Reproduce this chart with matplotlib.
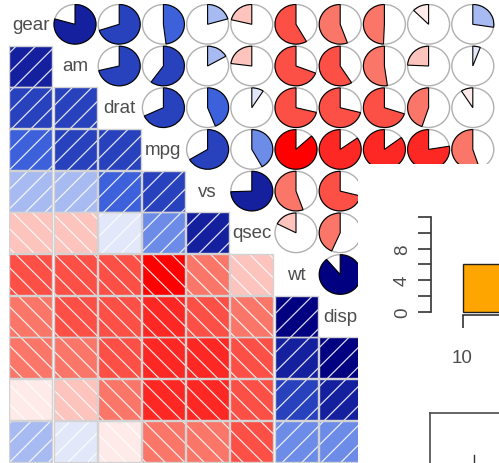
import numpy as np
import matplotlib
matplotlib.use("Agg")
import matplotlib.pyplot as plt
from matplotlib.patches import Rectangle, Wedge, Circle

# variables in corrgram order
names = ["gear", "am", "drat", "mpg", "vs", "qsec", "wt", "disp", "cyl", "hp", "carb"]

# upper triangle of the correlation matrix, one list per row (vs the following variables)
gear_r = [0.794, 0.700, 0.480, 0.206, -0.213, -0.583, -0.556, -0.493, -0.126, 0.274]
am_r = [0.713, 0.600, 0.168, -0.230, -0.692, -0.591, -0.523, -0.243, 0.058]
drat_r = [0.681, 0.440, 0.091, -0.712, -0.710, -0.700, -0.449, -0.091]
mpg_r = [0.664, 0.419, -0.868, -0.848, -0.852, -0.776, -0.551]
vs_r = [0.745, -0.555, -0.710, -0.811, -0.723, -0.570]
qsec_r = [-0.175, -0.434, -0.591, -0.708, -0.656]
wt_r = [0.888, 0.782, 0.659, 0.428]
disp_r = [0.902, 0.791, 0.395]
cyl_r = [0.832, 0.527]
hp_r = [0.750]

# histogram panel partly visible on top (mpg)
hist_edges = [10, 15, 20, 25, 30, 35]
hist_counts = [6, 12, 8, 2, 4]
hist_yticks = [0, 2, 4, 6, 8, 10, 12]
hist_ylabels = ["0", "", "4", "", "8", "", ""]
whisker_top = 0.6

n = len(names)
R = np.eye(n)
for i, row in enumerate([gear_r, am_r, drat_r, mpg_r, vs_r, qsec_r, wt_r, disp_r, cyl_r, hp_r]):
    for k, v in enumerate(row):
        R[i, i + 1 + k] = v
        R[i + 1 + k, i] = v

# corrgram palette: red, salmon, white, royalblue, navy in 14 steps
anchors = np.array([[255, 0, 0], [250, 128, 114], [255, 255, 255], [65, 105, 225], [0, 0, 128]]) / 255
pos = np.linspace(0, 1, 5)
t = np.linspace(0, 1, 14)
pal = np.column_stack([np.interp(t, pos, anchors[:, j]) for j in range(3)])

def shade(r):
    idx = int(np.clip(np.ceil((r + 1) / 2 * 14), 1, 14))
    return pal[idx - 1]

W, H = 499, 464
PX, PY = 44.2, 41.7      # pixel pitch of the cells
X0, Y0 = 9.3, 4.8        # top-left of the grid
CW, CH = 43 / PX, 41 / PY
S = 19.5                 # hatch spacing (px, horizontal)
txt_col = "#4d4d4d"
font = "Liberation Sans"

fig = plt.figure(figsize=(W / 100, H / 100), dpi=100)
ax = fig.add_axes([X0 / W, 1 - (Y0 + n * PY) / H, n * PX / W, n * PY / H])
ax.set_xlim(0, n)
ax.set_ylim(0, n)
ax.axis("off")

for i in range(n):
    for j in range(n):
        x0, y1 = j, n - i
        y0, x1 = y1 - CH, x0 + CW
        r = R[i, j]
        if i == j:
            ax.text(x0 + CW / 2, y0 + CH / 2, names[i], ha="center", va="center",
                    fontsize=13.5, color=txt_col, family=font)
        elif i > j:
            # shaded panel
            rect = Rectangle((x0, y0), CW, CH, fc=shade(r), ec="none", zorder=1)
            ax.add_patch(rect)
            if r > 0:
                lo, hi = x0 * PX - y1 * PY, x1 * PX - y0 * PY
            else:
                lo, hi = x0 * PX + y0 * PY, x1 * PX + y1 * PY
            for k in range(int(np.floor(lo / S)), int(np.ceil(hi / S)) + 1):
                p = np.array([x0 * PX - 60, x1 * PX + 60])
                q = p - k * S if r > 0 else k * S - p
                ln, = ax.plot(p / PX, q / PY, color="white", lw=0.9, alpha=0.85, zorder=2)
                ln.set_clip_path(rect)
            ax.add_patch(Rectangle((x0, y0), CW, CH, fc="none", ec="#d3d3d3", lw=1.0, zorder=3))
        else:
            # pie panel
            c = (x0 + CW / 2, y0 + CH / 2)
            rad = 0.475
            ax.add_patch(Circle(c, rad, fc="white", ec="#b0b0b0", lw=1.0, zorder=1))
            if r > 0:
                w = Wedge(c, rad, 90 - 360 * r, 90)
            else:
                w = Wedge(c, rad, 90, 90 - 360 * r)
            w.set_facecolor(shade(r))
            w.set_edgecolor("black")
            w.set_linewidth(0.8)
            w.set_zorder(2)
            ax.add_patch(w)

# overlaid histogram panel
ox, oy = 358, 165
y0px, ypu = 312.7, 7.89
x10px, xpu = 462.5, 10.0
hx = fig.add_axes([ox / W, 0, (W - ox) / W, (H - oy) / H], facecolor="white")
hx.bar(hist_edges[:-1], hist_counts, width=5, align="edge", color="orange", edgecolor="#222222", lw=1.0)
for s in ["top", "right"]:
    hx.spines[s].set_visible(False)
hx.set_yticks(hist_yticks)
hx.set_yticklabels(hist_ylabels)
hx.set_xticks(hist_edges)
hx.set_xticklabels([str(e) for e in hist_edges])
hx.set_ylim((y0px - H) / ypu, (y0px - oy) / ypu)
hx.set_xlim(10 - (x10px - ox) / xpu, 10 + (W - x10px) / xpu)
hx.spines["left"].set_position(("data", 10 - (x10px - 431) / xpu))
hx.spines["left"].set_bounds(0, 12)
hx.spines["bottom"].set_position(("data", (y0px - 316) / ypu))
hx.spines["bottom"].set_bounds(10, 35)
for s in ["left", "bottom"]:
    hx.spines[s].set_color("#333333")
    hx.spines[s].set_linewidth(1.2)
hx.tick_params(axis="both", length=9.4, width=1.2, color="#333333", labelsize=13.5,
               labelcolor=txt_col)
hx.tick_params(axis="y", pad=5, labelrotation=90)
hx.tick_params(axis="x", pad=15)
for lab in hx.get_yticklabels():
    lab.set_verticalalignment("center")
for lab in hx.get_xticklabels() + hx.get_yticklabels():
    lab.set_family(font)

# frame of the next panel below
bx = fig.add_axes([430 / W, 1 - 520 / H, 88 / W, (520 - 414) / H], facecolor="white")
bx.set_xlim(0, 2)
bx.set_ylim(0, 1)
for s in ["bottom", "right"]:
    bx.spines[s].set_visible(False)
for s in ["top", "left"]:
    bx.spines[s].set_color("#4a4a4a")
    bx.spines[s].set_linewidth(1.2)
bx.set_xticks([])
bx.set_yticks([])
bx.plot([1, 1], [0, whisker_top], color="#333333", lw=1.0)

fig.savefig("out.png", dpi=100)
